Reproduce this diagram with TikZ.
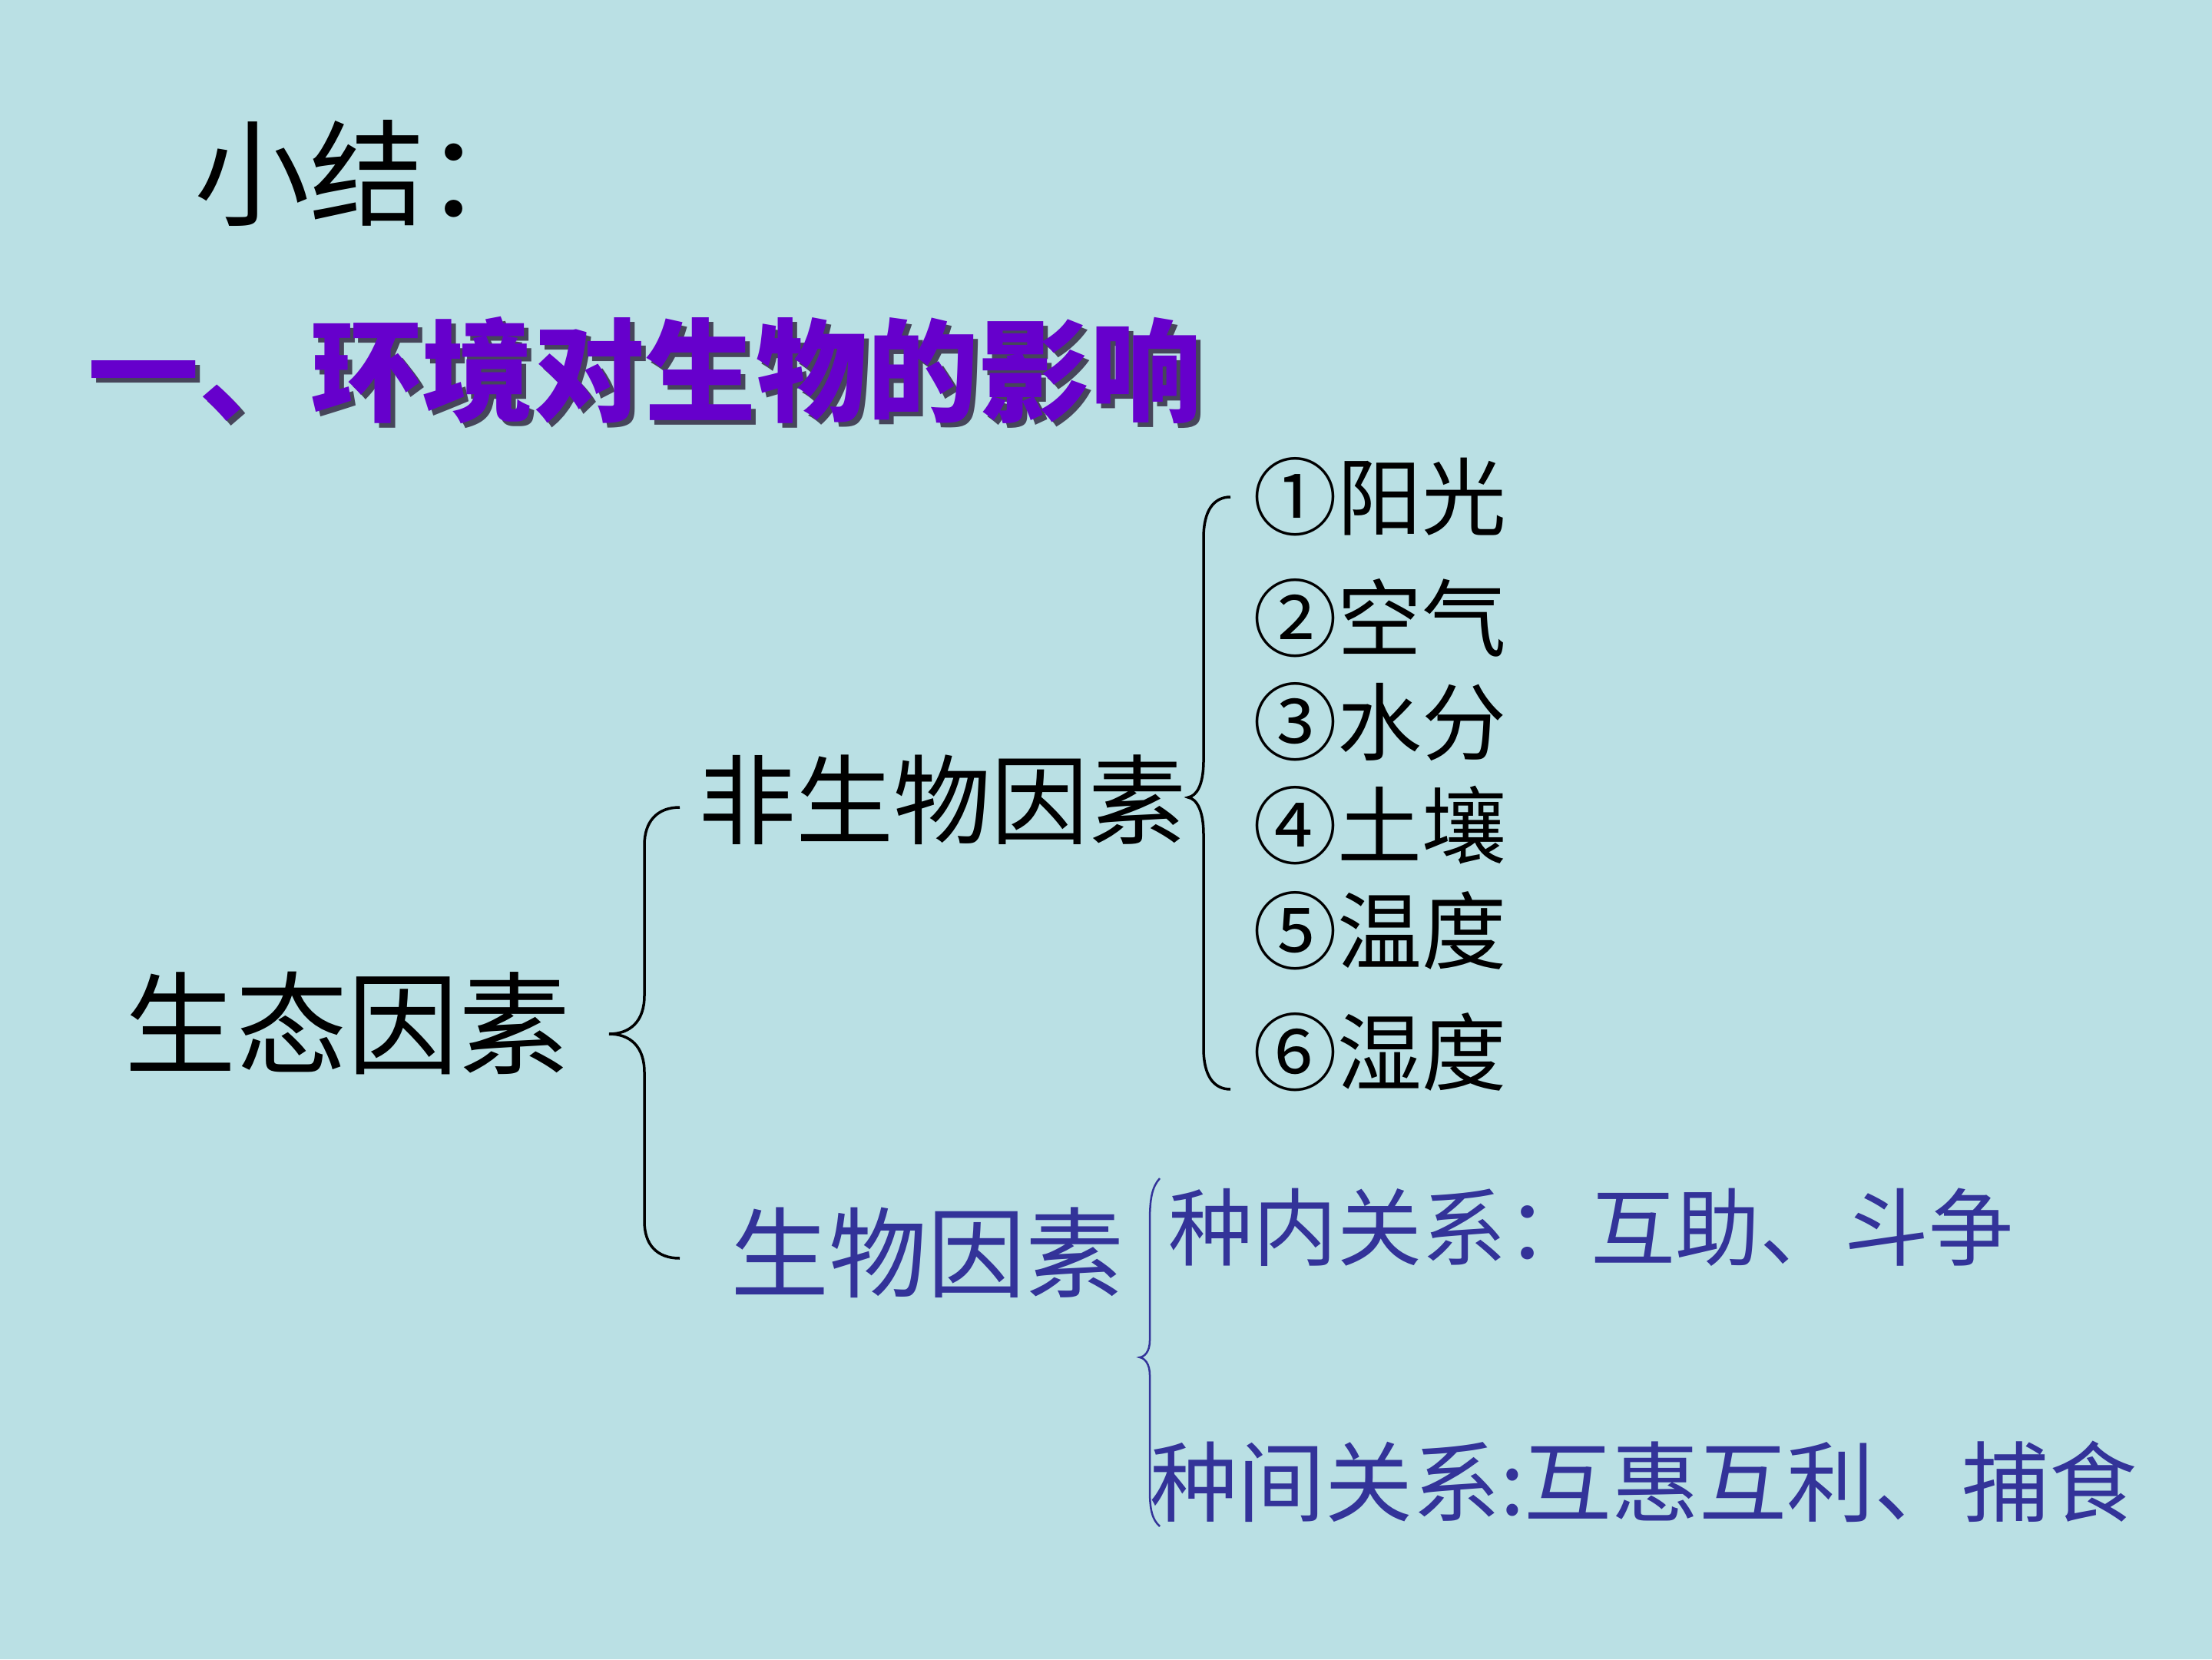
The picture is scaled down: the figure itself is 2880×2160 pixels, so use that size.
\documentclass[tikz,border=0pt]{standalone}
\usepackage{fontspec}
\newfontfamily\cjk{Noto Sans CJK SC}
\definecolor{bgc}{RGB}{186,224,228}
\definecolor{purp}{RGB}{102,0,204}
\definecolor{shad}{RGB}{70,70,90}
\definecolor{bluet}{RGB}{51,51,153}
\newcommand{\fsz}[1]{\cjk\fontsize{#1}{#1}\selectfont}
\newcommand{\shadowtext}[1]{\makebox[0pt][l]{\hspace{6pt}\raisebox{-6pt}{\color{shad}#1}}\color{purp}#1}
\begin{document}
\begin{tikzpicture}[x=1pt,y=-1pt,
  txt/.style={inner sep=0pt, anchor=west},
  blk/.style={txt, text=black},
  blu/.style={txt, text=bluet},
  item/.style={blk, font=\fsz{110}},
  bracek/.style={draw=black, line width=3.5pt},
  braceb/.style={draw=bluet, line width=2.5pt}]
\fill[bgc] (0,0) rectangle (2880,2160);
\useasboundingbox (0,0) rectangle (2880,2160);

% headings
\node[blk, font=\fsz{150}] (head) at (253,225) {小结：};
\node[txt, font=\fsz{145}\bfseries] (sec) at (114,485) {\shadowtext{一、环境对生物的影响}};

% main factor
\node[blk, font=\fsz{145}] (eco) at (162,1332) {生态因素};
\node[blk, font=\fsz{127}] (abio) at (909,1041) {非生物因素};
\node[blu, font=\fsz{128}] (bio) at (951,1631) {生物因素};

% abiotic items
\node[item] (i1) at (1631,647) {①阳光};
\node[item] (i2) at (1631,805) {②空气};
\node[item] (i3) at (1631,940) {③水分};
\node[item] (i4) at (1631,1075) {④土壤};
\node[item] (i5) at (1631,1212) {⑤温度};
\node[item] (i6) at (1631,1370) {⑥湿度};

% biotic items
\node[blu, font=\fsz{110}] (r1) at (1521,1598) {种内关系：互助、斗争};
\node[blu, font=\fsz{114}] (r2) at (1497,1929) {种间关系:互惠互利、捕食};

% brace 1 (big)
\coordinate (b1t) at (885,1051);
\coordinate (b1m) at (793,1346);
\coordinate (b1b) at (885,1638);
\draw[bracek] (b1t) .. controls (855,1051) and (839,1070) .. (839,1100)
  -- (839,1296) .. controls (839,1330) and (820,1346) .. (b1m)
  .. controls (820,1346) and (839,1362) .. (839,1396)
  -- (839,1590) .. controls (839,1620) and (855,1638) .. (b1b);

% brace 2 (abiotic)
\coordinate (b2t) at (1602,647);
\coordinate (b2m) at (1547,1038);
\coordinate (b2b) at (1602,1418);
\draw[bracek] (b2t) .. controls (1580,647) and (1567,665) .. (1567,700)
  -- (1567,990) .. controls (1567,1022) and (1558,1036) .. (b2m)
  .. controls (1558,1040) and (1567,1055) .. (1567,1086)
  -- (1567,1365) .. controls (1567,1400) and (1580,1418) .. (b2b);

% brace 3 (biotic, blue)
\coordinate (b3t) at (1510,1534);
\coordinate (b3m) at (1484,1767);
\coordinate (b3b) at (1510,1987);
\draw[braceb] (b3t) .. controls (1500,1545) and (1497,1560) .. (1497,1590)
  -- (1497,1745) .. controls (1497,1760) and (1490,1766) .. (b3m)
  .. controls (1490,1768) and (1497,1775) .. (1497,1790)
  -- (1497,1940) .. controls (1497,1965) and (1500,1978) .. (b3b);
\end{tikzpicture}
\end{document}
